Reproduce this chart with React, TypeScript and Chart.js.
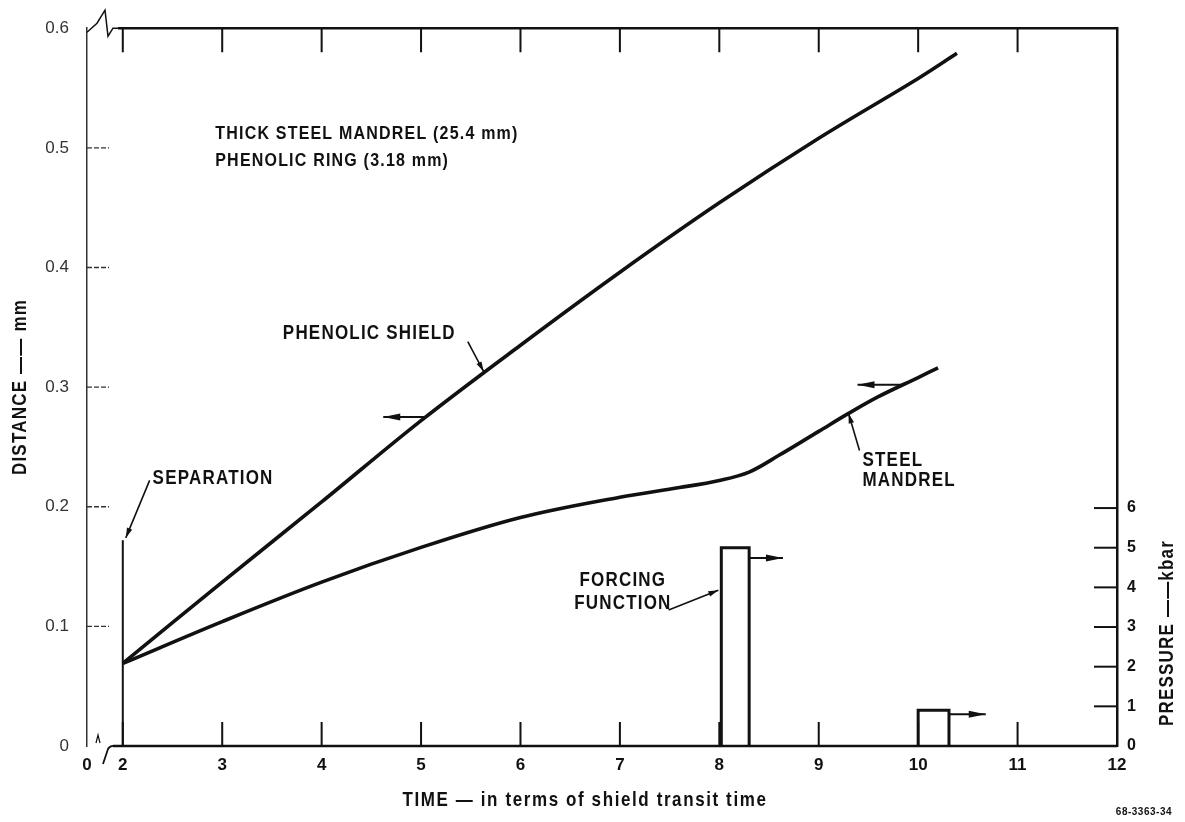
import React, { useEffect, useRef } from 'react';
import { Chart, registerables } from 'chart.js';

Chart.register(...registerables);

// ---------------- data ----------------
const phenolicTime = [2, 3, 4, 5, 6, 7, 8, 9, 10, 10.39];
const phenolicDistance = [0.069, 0.137, 0.204, 0.272, 0.335, 0.396, 0.454, 0.508, 0.558, 0.579];

const steelTime = [2, 3, 4, 5, 6, 7, 7.6, 8, 8.3, 8.6, 9, 9.3, 9.6, 10, 10.2];
const steelDistance = [0.069, 0.104, 0.137, 0.166, 0.191, 0.208, 0.216, 0.222, 0.229, 0.243, 0.263, 0.278, 0.292, 0.308, 0.316];

const separationTime = [2, 2];
const separationDistance = [0, 0.172];

const pulseStart = [8.02, 10.0];
const pulseEnd = [8.3, 10.31];
const pulsePressure = [5.0, 0.9];

const xTickValues = [1.64, 2, 3, 4, 5, 6, 7, 8, 9, 10, 11, 12];
const xTickLabels = ['0', '2', '3', '4', '5', '6', '7', '8', '9', '10', '11', '12'];
const distanceTickValues = [0, 0.1, 0.2, 0.3, 0.4, 0.5, 0.6];
const distanceTickLabels = ['0', '0.1', '0.2', '0.3', '0.4', '0.5', '0.6'];
const pressureTickValues = [0, 1, 2, 3, 4, 5, 6];
const pressureTickLabels = ['0', '1', '2', '3', '4', '5', '6'];

const X_MIN = 1.64;
const X_MAX = 12;
const D_MAX = 0.6;
const P_MAX = 18.1;

const X_TITLE = 'TIME — in terms of shield transit time';
const Y_TITLE = 'DISTANCE —— mm';
const Y2_TITLE = 'PRESSURE ——kbar';
const FIG_CODE = '68-3363-34';

const FONT = '"Liberation Sans", Arial, Helvetica, sans-serif';

type Label = { text: string; t: number; d: number; size?: number; align?: CanvasTextAlign };
const labels: Label[] = [
  { text: 'THICK STEEL MANDREL (25.4 mm)', t: 2.93, d: 0.512, size: 16 },
  { text: 'PHENOLIC RING (3.18 mm)', t: 2.93, d: 0.489, size: 16 },
  { text: 'PHENOLIC SHIELD', t: 3.61, d: 0.345 },
  { text: 'SEPARATION', t: 2.3, d: 0.224 },
  { text: 'STEEL', t: 9.44, d: 0.239 },
  { text: 'MANDREL', t: 9.44, d: 0.222 },
  { text: 'FORCING', t: 7.03, d: 0.138, align: 'center' },
  { text: 'FUNCTION', t: 7.03, d: 0.119, align: 'center' },
];

// axis pointers: [fromT, fromV, toT, toV, axis]
const pointers: [number, number, number, number, 'y' | 'y2'][] = [
  [5.04, 0.275, 4.62, 0.275, 'y'],
  [9.85, 0.302, 9.39, 0.302, 'y'],
  [8.3, 4.74, 8.64, 4.74, 'y2'],
  [10.31, 0.8, 10.68, 0.8, 'y2'],
];

// leaders: [fromT, fromV, toT, toV, axis]
const leaders: [number, number, number, number, 'y' | 'y2'][] = [
  [2.27, 0.222, 2.03, 0.174, 'y'],
  [5.47, 0.338, 5.63, 0.313, 'y'],
  [9.41, 0.247, 9.3, 0.278, 'y'],
  [7.49, 3.43, 7.99, 3.93, 'y2'],
];

function drawText(
  ctx: CanvasRenderingContext2D,
  s: string,
  x: number,
  y: number,
  o: { size?: number; weight?: string; align?: CanvasTextAlign; spacing?: number; sy?: number; color?: string; rotate?: number } = {}
) {
  const { size = 17, weight = 'bold', align = 'left', spacing = 1.2, sy = 1.18, color = '#111', rotate = 0 } = o;
  ctx.save();
  ctx.translate(x, y);
  if (rotate) ctx.rotate(rotate);
  ctx.scale(1, sy);
  ctx.font = `${weight} ${size}px ${FONT}`;
  (ctx as any).letterSpacing = `${spacing}px`;
  ctx.textAlign = align;
  ctx.textBaseline = 'middle';
  ctx.fillStyle = color;
  ctx.fillText(s, 0, 0);
  ctx.restore();
}

function arrowHead(ctx: CanvasRenderingContext2D, x1: number, y1: number, x2: number, y2: number, len: number, half: number) {
  const a = Math.atan2(y2 - y1, x2 - x1);
  const bx = x2 - Math.cos(a) * len;
  const by = y2 - Math.sin(a) * len;
  ctx.beginPath();
  ctx.moveTo(x2, y2);
  ctx.lineTo(bx + Math.sin(a) * half, by - Math.cos(a) * half);
  ctx.lineTo(bx - Math.sin(a) * half, by + Math.cos(a) * half);
  ctx.closePath();
  ctx.fill();
}

const overlay = {
  id: 'overlay',
  afterDatasetsDraw(chart: any) {
    const ctx: CanvasRenderingContext2D = chart.ctx;
    const xs = chart.scales.x;
    const ys = chart.scales.y;
    const y2 = chart.scales.y2;
    const { left, right, top, bottom } = chart.chartArea;
    const px = (v: number) => xs.getPixelForValue(v);
    const py = (v: number, ax: 'y' | 'y2' = 'y') => (ax === 'y' ? ys : y2).getPixelForValue(v);

    ctx.save();
    ctx.strokeStyle = '#111';
    ctx.fillStyle = '#111';
    ctx.lineCap = 'butt';

    // top border with break
    ctx.lineWidth = 2.5;
    ctx.beginPath();
    ctx.moveTo(left + 31, top);
    ctx.lineTo(right, top);
    ctx.stroke();
    ctx.lineWidth = 1.5;
    ctx.beginPath();
    ctx.moveTo(left, top + 4);
    ctx.lineTo(left + 10, top - 5);
    ctx.lineTo(left + 18, top - 18);
    ctx.lineTo(left + 21, top + 8);
    ctx.lineTo(left + 26, top);
    ctx.lineTo(left + 31, top);
    ctx.stroke();

    // bottom axis with break
    ctx.lineWidth = 2.5;
    ctx.beginPath();
    ctx.moveTo(left + 26, bottom);
    ctx.lineTo(right, bottom);
    ctx.stroke();
    ctx.lineWidth = 1.8;
    ctx.beginPath();
    ctx.moveTo(left + 16, bottom + 18);
    ctx.lineTo(left + 21, bottom + 3);
    ctx.quadraticCurveTo(left + 23, bottom - 1, left + 28, bottom);
    ctx.stroke();
    ctx.lineWidth = 1.2;
    ctx.beginPath();
    ctx.moveTo(left + 9, bottom - 3);
    ctx.lineTo(left + 11, bottom - 11);
    ctx.lineTo(left + 13, bottom - 3);
    ctx.stroke();

    // inward ticks on time axes
    ctx.lineWidth = 2;
    for (let t = 2; t <= 12; t++) {
      const x = px(t);
      ctx.beginPath();
      ctx.moveTo(x, bottom);
      ctx.lineTo(x, bottom - 24);
      ctx.moveTo(x, top);
      ctx.lineTo(x, top + 24);
      ctx.stroke();
    }
    // distance ticks (left)
    ctx.lineWidth = 1.4;
    ctx.strokeStyle = '#333';
    ctx.setLineDash([5, 2]);
    distanceTickValues.forEach((d) => {
      if (d <= 0 || d >= D_MAX) return;
      const y = py(d);
      ctx.beginPath();
      ctx.moveTo(left, y);
      ctx.lineTo(left + 22, y);
      ctx.stroke();
    });
    ctx.setLineDash([]);
    ctx.strokeStyle = '#111';
    // pressure ticks (right)
    ctx.lineWidth = 2;
    pressureTickValues.forEach((p) => {
      if (p <= 0) return;
      const y = py(p, 'y2');
      ctx.beginPath();
      ctx.moveTo(right, y);
      ctx.lineTo(right - 23, y);
      ctx.stroke();
    });

    // axis pointers
    pointers.forEach(([t1, v1, t2, v2, ax]) => {
      const x1 = px(t1), yy1 = py(v1, ax), x2 = px(t2), yy2 = py(v2, ax);
      ctx.lineWidth = 2;
      ctx.beginPath();
      ctx.moveTo(x1, yy1);
      ctx.lineTo(x2, yy2);
      ctx.stroke();
      arrowHead(ctx, x1, yy1, x2, yy2, 17, 3.5);
    });

    // leader lines
    leaders.forEach(([t1, v1, t2, v2, ax]) => {
      const x1 = px(t1), yy1 = py(v1, ax), x2 = px(t2), yy2 = py(v2, ax);
      ctx.lineWidth = 1.6;
      ctx.beginPath();
      ctx.moveTo(x1, yy1);
      ctx.lineTo(x2, yy2);
      ctx.stroke();
      arrowHead(ctx, x1, yy1, x2, yy2, 10, 2.8);
    });

    // annotation labels
    labels.forEach((l) => {
      drawText(ctx, l.text, px(l.t), py(l.d), { size: l.size ?? 17, align: l.align ?? 'left' });
    });

    // axis titles
    drawText(ctx, X_TITLE, 585, 800, { size: 17, align: 'center', spacing: 1.6 });
    drawText(ctx, Y_TITLE, 20, 387, { size: 17, align: 'center', rotate: -Math.PI / 2, spacing: 1.2 });
    drawText(ctx, Y2_TITLE, 1167, 633, { size: 17, align: 'center', rotate: -Math.PI / 2, spacing: 1.2 });
    drawText(ctx, FIG_CODE, 1172, 812, { size: 10, align: 'right', spacing: 0.5, sy: 1.1 });

    ctx.restore();
  },
};

export default function App() {
  const canvasRef = useRef<HTMLCanvasElement | null>(null);

  useEffect(() => {
    if (!canvasRef.current) return;
    const lineStyle = {
      borderColor: '#111',
      backgroundColor: '#111',
      pointRadius: 0,
      fill: false,
      clip: false as any,
    };
    const pulseSets = pulseStart.map((s, i) => ({
      ...lineStyle,
      label: `pulse${i}`,
      yAxisID: 'y2',
      borderWidth: 3,
      tension: 0,
      borderJoinStyle: 'miter' as CanvasLineJoin,
      data: [
        { x: s, y: 0 },
        { x: s, y: pulsePressure[i] },
        { x: pulseEnd[i], y: pulsePressure[i] },
        { x: pulseEnd[i], y: 0 },
      ],
    }));

    const chart = new Chart(canvasRef.current, {
      type: 'line',
      data: {
        datasets: [
          {
            ...lineStyle,
            label: 'Phenolic shield',
            yAxisID: 'y',
            borderWidth: 3.6,
            tension: 0.35,
            data: phenolicTime.map((t, i) => ({ x: t, y: phenolicDistance[i] })),
          },
          {
            ...lineStyle,
            label: 'Steel mandrel',
            yAxisID: 'y',
            borderWidth: 3.6,
            tension: 0.35,
            data: steelTime.map((t, i) => ({ x: t, y: steelDistance[i] })),
          },
          {
            ...lineStyle,
            label: 'Separation',
            yAxisID: 'y',
            borderWidth: 2,
            tension: 0,
            data: separationTime.map((t, i) => ({ x: t, y: separationDistance[i] })),
          },
          ...pulseSets,
        ] as any,
      },
      options: {
        animation: false,
        responsive: false,
        devicePixelRatio: 1,
        layout: { padding: { top: 28, left: 0, right: 0, bottom: 0 } },
        plugins: { legend: { display: false }, tooltip: { enabled: false } },
        elements: { point: { radius: 0 } },
        scales: {
          x: {
            type: 'linear',
            position: 'bottom',
            min: X_MIN,
            max: X_MAX,
            grid: { display: false, drawTicks: false },
            border: { display: false },
            ticks: {
              autoSkip: false,
              maxRotation: 0,
              padding: 9,
              color: '#111',
              font: { family: FONT, size: 17, weight: 'bold' },
              callback: (_v: any, i: number) => xTickLabels[i],
            },
            afterBuildTicks: (s: any) => {
              s.ticks = xTickValues.map((v) => ({ value: v }));
            },
            afterFit: (s: any) => {
              s.height = 76;
            },
          },
          y: {
            type: 'linear',
            position: 'left',
            min: 0,
            max: D_MAX,
            grid: { display: false, drawTicks: false },
            border: { display: true, color: '#333', width: 1.5, dash: [5, 2] },
            ticks: {
              padding: 18,
              color: '#333',
              font: { family: FONT, size: 17 },
              callback: (_v: any, i: number) => distanceTickLabels[i],
            },
            afterBuildTicks: (s: any) => {
              s.ticks = distanceTickValues.map((v) => ({ value: v }));
            },
            afterFit: (s: any) => {
              s.width = 87;
            },
          },
          y2: {
            type: 'linear',
            position: 'right',
            min: 0,
            max: P_MAX,
            grid: { display: false, drawTicks: false },
            border: { display: true, color: '#111', width: 2.5 },
            ticks: {
              padding: 10,
              color: '#111',
              font: { family: FONT, size: 16, weight: 'bold' },
              callback: (_v: any, i: number) => pressureTickLabels[i],
            },
            afterBuildTicks: (s: any) => {
              s.ticks = pressureTickValues.map((v) => ({ value: v }));
            },
            afterFit: (s: any) => {
              s.width = 68;
            },
          },
        },
      } as any,
      plugins: [overlay],
    });
    return () => chart.destroy();
  }, []);

  return (
    <div style={{ position: 'absolute', left: 0, top: 0, width: 1185, height: 822, background: '#fff' }}>
      <canvas ref={canvasRef} width={1185} height={822} style={{ display: 'block' }} />
    </div>
  );
}
